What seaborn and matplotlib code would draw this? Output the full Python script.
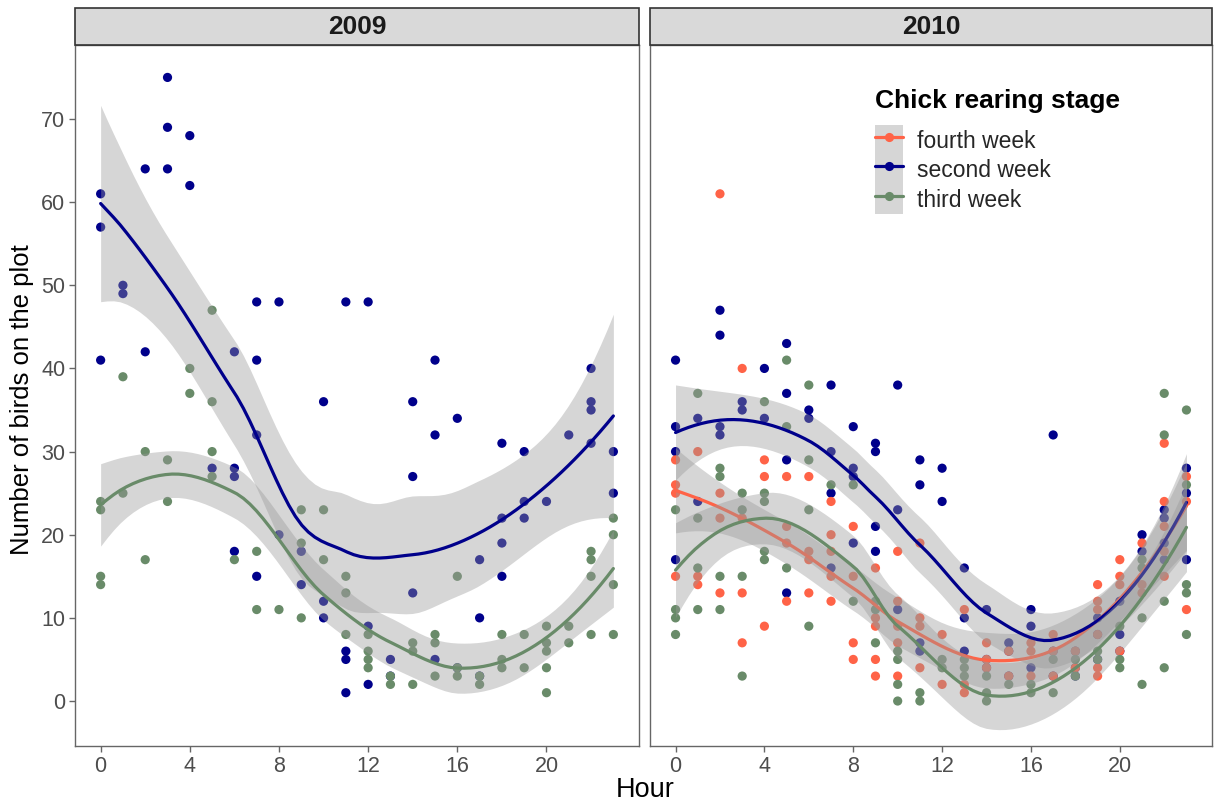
import numpy as np
import pandas as pd
import seaborn as sns
import matplotlib
matplotlib.use("Agg")
import matplotlib.pyplot as plt
from matplotlib.lines import Line2D
from matplotlib.patches import Patch, Rectangle
from matplotlib.legend_handler import HandlerTuple

# ---------------- data (counts per hour 0..23) ----------------
hours = list(range(24))
stages = ["fourth week", "second week", "third week"]
years = ["2009", "2010"]

y2009_second = [[61, 57, 41], [50, 49], [64, 42], [75, 69, 64], [68, 62], [28],
                [42, 28, 27, 18], [48, 41, 32, 15], [48, 20], [18, 14], [36, 12, 10],
                [48, 6, 5, 1], [48, 9, 2], [5, 3], [36, 27, 13], [41, 32, 5], [34, 4],
                [17, 10, 3], [31, 22, 19, 15], [30, 24, 22], [24], [32],
                [40, 36, 35, 31], [30, 25]]
y2009_third = [[24, 23, 15, 14], [39, 25], [30, 17], [29, 24], [40, 37],
               [47, 36, 30, 27], [17], [18, 11], [11], [23, 19, 10], [23, 17],
               [15, 13, 8], [8, 6, 5, 4], [3, 2], [7, 6, 2], [8, 7, 3], [15, 4, 3],
               [3, 2], [8, 5, 4], [8, 4], [9, 7, 6, 4, 1], [9, 7], [18, 17, 15, 8],
               [22, 20, 14, 8]]
y2010_fourth = [[29, 26, 25, 15], [30, 15, 14], [61, 25, 22, 13], [40, 22, 13, 7],
                [29, 27, 9], [27, 21, 19, 12], [27, 18, 17, 13], [24, 20, 18, 15, 12],
                [21, 15, 7, 5], [16, 10, 9, 5, 3], [18, 12, 9, 7, 3], [19, 10, 9, 4],
                [8, 2], [11, 2, 1], [7, 5, 4], [6, 3], [7, 6, 3], [8, 6, 3], [6, 4],
                [14, 12, 11, 8, 4, 3], [17, 15, 14, 6], [19, 14, 13],
                [31, 24, 21, 18, 15], [27, 24, 11]]
y2010_second = [[41, 33, 30, 17], [34, 24], [47, 44, 33, 32], [36, 35], [40, 34],
                [43, 37, 29, 13], [35, 34], [38, 30, 25, 16], [33, 28, 27, 19],
                [31, 30, 21, 18], [38, 23, 11], [29, 26, 7, 6], [28, 24], [16, 10, 6],
                [11, 5, 4], [7, 6, 3], [11, 9, 4], [32, 6, 3], [6, 4, 3], [10, 8, 5],
                [12, 8, 6], [20, 18], [23, 22, 19, 17], [28, 25, 17]]
y2010_third = [[23, 11, 10, 8], [37, 22, 16, 11], [28, 27, 15, 11], [25, 23, 15, 3],
               [36, 25, 24, 18, 17], [41, 33, 16], [38, 29, 23, 9], [26], [26, 12],
               [12, 11, 7], [6, 5, 2, 0], [1, 0], [5, 4], [5, 4, 3], [3, 1, 0], [2],
               [2, 1], [5, 1], [5, 3], [6, 5], [9, 5, 4], [17, 16, 10, 2],
               [37, 32, 12, 4], [35, 26, 14, 13, 8]]

# drawing order of the points: second week first, so coinciding points hide below
series = [
    ("2009", "second week", y2009_second),
    ("2009", "third week", y2009_third),
    ("2010", "second week", y2010_second),
    ("2010", "fourth week", y2010_fourth),
    ("2010", "third week", y2010_third),
]

rows = []
for yr, st, per_hour in series:
    for h, vals in zip(hours, per_hour):
        for v in vals:
            rows.append((yr, st, h, v))
df = pd.DataFrame(rows, columns=["Year", "Stage", "Hour", "Count"])

palette = {"fourth week": "#FF6347", "second week": "#00008B", "third week": "#698B69"}


# ---------------- loess (degree 2, span 0.75, kd-tree interpolation) ----------------
def t_quantile(df_):
    z = 1.959963985
    g1 = (z ** 3 + z) / 4
    g2 = (5 * z ** 5 + 16 * z ** 3 + 3 * z) / 96
    g3 = (3 * z ** 7 + 19 * z ** 5 + 17 * z ** 3 - 15 * z) / 384
    return z + g1 / df_ + g2 / df_ ** 2 + g3 / df_ ** 3


def loess(x, y, xg, span=0.75, cell=0.2):
    order = np.argsort(x, kind="stable")
    x = np.asarray(x, float)[order]
    y = np.asarray(y, float)[order]
    n = len(x)
    q = int(np.floor(n * span))
    fc = int(np.floor(n * span * cell))

    def coef_rows(x0):
        d = np.abs(x - x0)
        h = max(np.sort(d)[q - 1], 1e-9)
        u = np.clip(d / h, 0, 1)
        w = (1 - u ** 3) ** 3
        X = np.column_stack([np.ones(n), x - x0, (x - x0) ** 2])
        XtW = X.T * w
        B = np.linalg.solve(XtW @ X, XtW)
        return B[0], B[1]

    a, b = x.min(), x.max()
    mu = 0.005 * max(b - a, 1e-10 * max(abs(a), abs(b)) + 1e-30)
    lo_v, hi_v = a - mu, b + mu
    verts = [lo_v, hi_v]
    stack = [(0, n - 1, lo_v, hi_v)]
    while stack:
        l, u, vl, vh = stack.pop(0)
        if u - l + 1 <= fc:
            continue
        m = (l + 1 + u + 1) // 2 - 1
        off = 0
        while True:
            if m + off >= u or m + off < l:
                break
            if x[m + off] == x[m + off + 1]:
                off = -off
                if off >= 0:
                    off += 1
            else:
                m = m + off
                break
        v = x[m]
        if v == vl or v == vh:
            continue
        verts.append(v)
        stack.append((l, m, vl, v))
        stack.append((m + 1, u, v, vh))
    verts = np.array(sorted(verts))
    V, D = zip(*[coef_rows(v) for v in verts])
    V = np.array(V)
    D = np.array(D)

    def interp_rows(t):
        t = np.atleast_1d(t)
        out = np.zeros((len(t), n))
        for k, tt in enumerate(t):
            j = np.searchsorted(verts, tt, side="right") - 1
            j = min(max(j, 0), len(verts) - 2)
            hh = verts[j + 1] - verts[j]
            s = (tt - verts[j]) / hh
            h00 = 2 * s ** 3 - 3 * s ** 2 + 1
            h10 = s ** 3 - 2 * s ** 2 + s
            h01 = -2 * s ** 3 + 3 * s ** 2
            h11 = s ** 3 - s ** 2
            out[k] = h00 * V[j] + h10 * hh * D[j] + h01 * V[j + 1] + h11 * hh * D[j + 1]
        return out

    L = interp_rows(x)
    res = y - L @ y
    IL = np.eye(n) - L
    M = IL.T @ IL
    d1 = np.trace(M)
    d2 = np.trace(M @ M)
    s = np.sqrt(np.sum(res ** 2) / d1)
    dof = d1 ** 2 / d2
    Lg = interp_rows(xg)
    fit = Lg @ y
    se = s * np.sqrt((Lg ** 2).sum(1))
    t = t_quantile(dof)
    return fit, fit - t * se, fit + t * se


# ---------------- figure ----------------
sns.set_theme(style="white")
plt.rcParams["font.family"] = ["Liberation Sans", "DejaVu Sans"]

W, H = 1214, 807
fig = plt.figure(figsize=(W / 100, H / 100), dpi=100)

panel_px = {"2009": (75, 639), "2010": (650, 1212)}
top_px, bot_px = 45, 746
strip_px = 37

axes = {}
for yr in years:
    x0, x1 = panel_px[yr]
    ax = fig.add_axes([x0 / W, 1 - bot_px / H, (x1 - x0) / W, (bot_px - top_px) / H])
    axes[yr] = ax

for yr in years:
    ax = axes[yr]
    sub = df[df.Year == yr]
    sns.scatterplot(data=sub, x="Hour", y="Count", hue="Stage", palette=palette,
                    s=44, linewidth=0, legend=False, ax=ax, zorder=2)
    z = 3
    for st in stages:
        g = sub[sub.Stage == st]
        if len(g) == 0:
            continue
        grid = np.linspace(g.Hour.min(), g.Hour.max(), 80)
        fit, lo, hi = loess(g.Hour.values, g.Count.values, grid)
        ax.fill_between(grid, lo, hi, color="#999999", alpha=0.4, linewidth=0, zorder=z)
        sns.lineplot(x=grid, y=fit, color=palette[st], linewidth=2.3, ax=ax, zorder=z + 1)
        z += 2

    ax.set_xlim(-1.15, 24.15)
    ax.set_ylim(-5.41, 78.9)
    ax.set_xticks([0, 4, 8, 12, 16, 20])
    ax.set_yticks([0, 10, 20, 30, 40, 50, 60, 70])
    ax.set_xlabel("")
    ax.set_ylabel("")
    for sp in ax.spines.values():
        sp.set_color("#666666")
        sp.set_linewidth(1.0)
    ax.tick_params(axis="both", direction="out", length=4, width=1.0, color="#666666",
                   labelcolor="#4D4D4D", labelsize=15.5, pad=3,
                   bottom=True, left=True)
    ax.grid(False)
    hfrac = strip_px / (bot_px - top_px)
    ax.add_patch(Rectangle((0, 1), 1, hfrac, transform=ax.transAxes,
                           facecolor="#D9D9D9", edgecolor="#333333", linewidth=1.2,
                           clip_on=False, zorder=10))
    ax.text(0.5, 1 + hfrac / 2, yr, transform=ax.transAxes, ha="center", va="center",
            fontsize=19, fontweight="bold", color="#1A1A1A", zorder=11)

axes["2010"].tick_params(axis="y", left=False, labelleft=False)

fig.text(645 / W, 1 - 790 / H, "Hour", ha="center", va="center", fontsize=19.5, color="black")
fig.text(22 / W, 1 - 400 / H, "Number of birds on the plot", ha="center", va="center",
         rotation=90, fontsize=18.5, color="black")

# legend
fig.text(875 / W, 1 - 101 / H, "Chick rearing stage", ha="left", va="center",
         fontsize=19, fontweight="bold", color="black")
handles = []
for st in stages:
    handles.append((Patch(facecolor="#D6D6D6", edgecolor="none"),
                    Line2D([0], [0], color=palette[st], lw=2.3, marker="o",
                           markersize=6.6, markeredgewidth=0)))
leg = axes["2010"].legend(handles, stages, handler_map={tuple: HandlerTuple(ndivide=1, pad=0)},
                          loc="upper left",
                          bbox_to_anchor=(875 / W, 1 - 125.5 / H), bbox_transform=fig.transFigure,
                          frameon=False, fontsize=16.5,
                          handlelength=1.22, handleheight=1.6, labelspacing=0.0,
                          handletextpad=0.6, borderpad=0, borderaxespad=0)
leg.set_zorder(20)

fig.savefig("out.png", dpi=100)
